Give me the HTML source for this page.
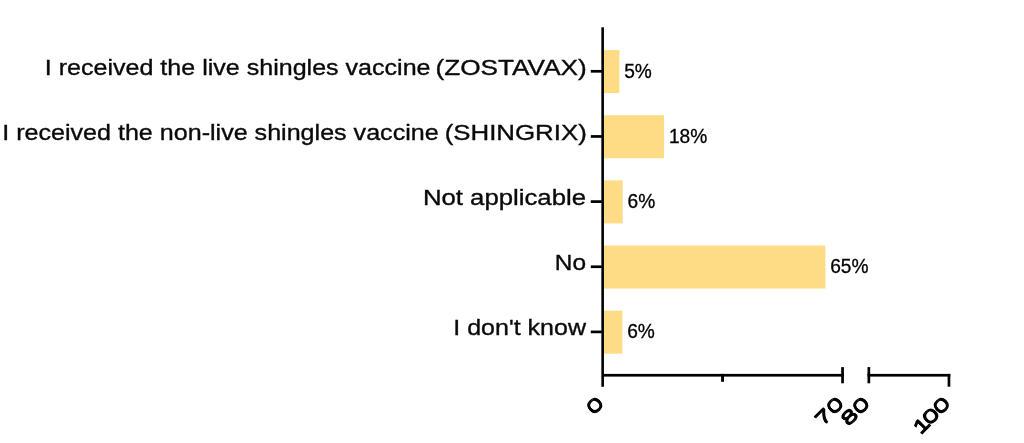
<!DOCTYPE html>
<html><head><meta charset="utf-8"><title>chart</title>
<style>
html,body{margin:0;padding:0;background:#fff;}
#chart{position:relative;width:1024px;height:443px;overflow:hidden;background:#fff;}
#chart svg{position:absolute;display:block;overflow:visible;}
.lab{font-family:"Liberation Sans",sans-serif;font-size:22.5px;fill:#0a0a0a;stroke:#0a0a0a;stroke-width:0.35px;}
.val{font-family:"Liberation Sans",sans-serif;font-size:19.8px;fill:#000;stroke:#000;stroke-width:0.3px;}
.tk{position:absolute;display:block;margin:0;padding:0;font:18.3px/1 "Liberation Sans",sans-serif;color:#000;letter-spacing:-0.76px;white-space:nowrap;transform-origin:100% 100%;transform:rotate(-45deg) scaleX(1.6);text-shadow:0 0.75px 0 #000,0 -0.75px 0 #000;}
</style></head><body>
<div id="chart">
<svg width="1024" height="443" viewBox="0 0 1024 443" style="left:0;top:0">
<rect width="1024" height="443" fill="#ffffff"/>
<rect x="602.7" y="50.10" width="16.7" height="43.0" fill="#FEDB85"/>
<text class="lab" y="74.70"><tspan x="44.8" textLength="385.7" lengthAdjust="spacingAndGlyphs">I received the live shingles vaccine</tspan> <tspan x="435.5" textLength="151.3" lengthAdjust="spacingAndGlyphs">(ZOSTAVAX)</tspan></text>
<text class="val" transform="translate(624.2,77.80) scale(0.968,1)">5%</text>
<rect x="590.8" y="69.95" width="11" height="2.7" fill="#000"/>
<rect x="602.7" y="115.25" width="61.4" height="43.0" fill="#FEDB85"/>
<text class="lab" y="139.85"><tspan x="2.2" textLength="436.5" lengthAdjust="spacingAndGlyphs">I received the non-live shingles vaccine</tspan> <tspan x="444.7" textLength="142.1" lengthAdjust="spacingAndGlyphs">(SHINGRIX)</tspan></text>
<text class="val" transform="translate(668.9,142.95) scale(0.968,1)">18%</text>
<rect x="590.8" y="135.10" width="11" height="2.7" fill="#000"/>
<rect x="602.7" y="180.40" width="20.0" height="43.0" fill="#FEDB85"/>
<text class="lab" x="422.9" y="205.00" textLength="163.1" lengthAdjust="spacingAndGlyphs">Not applicable</text>
<text class="val" transform="translate(627.5,208.10) scale(0.968,1)">6%</text>
<rect x="590.8" y="200.25" width="11" height="2.7" fill="#000"/>
<rect x="602.7" y="245.55" width="222.7" height="43.0" fill="#FEDB85"/>
<text class="lab" x="554.8" y="270.15" textLength="31.2" lengthAdjust="spacingAndGlyphs">No</text>
<text class="val" transform="translate(830.2,273.25) scale(0.968,1)">65%</text>
<rect x="590.8" y="265.40" width="11" height="2.7" fill="#000"/>
<rect x="602.7" y="310.70" width="19.7" height="43.0" fill="#FEDB85"/>
<text class="lab" x="453.3" y="335.30" textLength="132.7" lengthAdjust="spacingAndGlyphs">I don't know</text>
<text class="val" transform="translate(627.2,338.40) scale(0.968,1)">6%</text>
<rect x="590.8" y="330.55" width="11" height="2.7" fill="#000"/>
<rect x="601.35" y="27.3" width="2.6" height="359.5" fill="#000"/>
<rect x="602.5" y="373.9" width="241.40" height="2.7" fill="#000"/>
<rect x="867.5" y="373.9" width="82.8" height="2.7" fill="#000"/>
<rect x="841.2" y="367.1" width="2.7" height="16.2" fill="#000"/>
<rect x="867.5" y="367.1" width="2.7" height="16.2" fill="#000"/>
<rect x="947.6" y="373.9" width="2.7" height="12.8" fill="#000"/>
<rect x="721.1" y="373.9" width="2.9" height="7.9" fill="#000"/>
</svg>
<div class="tk" style="right:417.45px;bottom:36.05px">0</div>
<div class="tk" style="right:177.65px;bottom:36.05px"><span style="letter-spacing:-0.1px">7</span>0</div>
<div class="tk" style="right:151.25px;bottom:36.05px"><span style="letter-spacing:-0.1px">8</span>0</div>
<div class="tk" style="right:71.15px;bottom:36.05px"><span style="letter-spacing:-2px">1</span>00</div>
</div></body></html>
